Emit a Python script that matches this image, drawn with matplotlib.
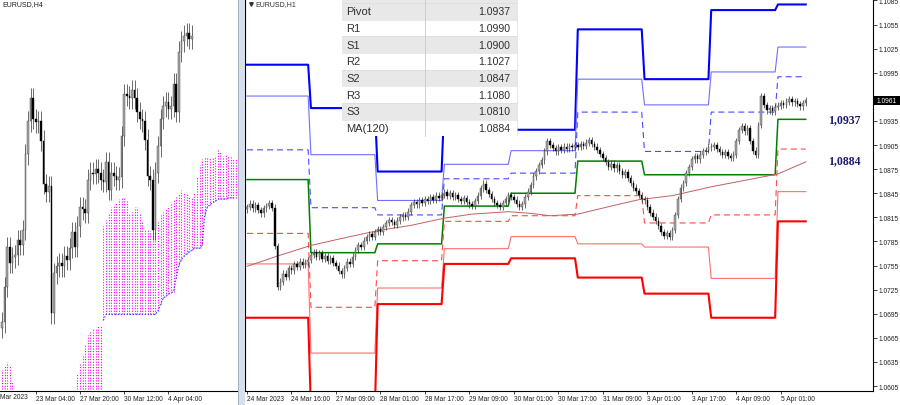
import numpy as np
import matplotlib
matplotlib.use("Agg")
import matplotlib.pyplot as plt
from matplotlib.patches import Rectangle

plt.rcParams['font.family'] = ['Liberation Sans', 'DejaVu Sans']

# ---------------- data ----------------
# EURUSD H4 closes (left panel)
h4_first_open = 1.0712
h4_close = [1.0717, 1.0748, 1.0783, 1.0769, 1.0774, 1.0776, 1.0789, 1.0785, 1.0798, 1.0864,
            1.0893, 1.0913, 1.0895, 1.0892, 1.0893, 1.0876, 1.0838, 1.0831, 1.0836, 1.0725,
            1.0760, 1.0766, 1.0769, 1.0766, 1.0775, 1.0772, 1.0782, 1.0796, 1.0783, 1.0801,
            1.0818, 1.0816, 1.0813, 1.0842, 1.0848, 1.0847, 1.0851, 1.0848, 1.0842, 1.0840,
            1.0857, 1.0833, 1.0848, 1.0845, 1.0842, 1.0844, 1.0880, 1.0917, 1.0915, 1.0913,
            1.0920, 1.0913, 1.0901, 1.0895, 1.0893, 1.0877, 1.0845, 1.0842, 1.0798, 1.0848,
            1.0871, 1.0895, 1.0906, 1.0910, 1.0904, 1.0906, 1.0926, 1.0901, 1.0954, 1.0963,
            1.0968, 1.0970, 1.0965, 1.0968]
h4_ticks = [13.1, 30, 46.9, 63.8]
h4_labels = ['23 Mar 04:00', '27 Mar 20:00', '30 Mar 12:00', '4 Apr 04:00']

# ichimoku cloud borders per H4 bar (nan = no cloud on screen)
nan = np.nan
cloud_top = ([1.0675, 1.0680, 1.0682, 1.0679, 1.0666] + [nan] * 23 +
             [1.0658, 1.0673, 1.0681, 1.0688, 1.0697, 1.0706, 1.0709, 1.0711, 1.0712, 1.0714, 1.0715,
              1.0801, 1.0807, 1.0813, 1.0818, 1.0820, 1.0822, 1.0825, 1.0826, 1.0826, 1.0823,
              1.0813, 1.0814, 1.0818, 1.0818, 1.0813, 1.0805, 1.0799, 1.0798, 1.0797, 1.0797, 1.0796,
              1.0805, 1.0811, 1.0814, 1.0817, 1.0819, 1.0822, 1.0825, 1.0827, 1.0830, 1.0833,
              1.0830, 1.0830, 1.0827, 1.0826, 1.0831, 1.0844, 1.0855,
              1.0860, 1.0862, 1.0862, 1.0862, 1.0862, 1.0862, 1.0869, 1.0867, 1.0863, 1.0864,
              1.0863, 1.0862, 1.0861, 1.0861])
cloud_bot = ([1.0645] * 5 + [nan] * 23 + [1.0645] * 11 +
             [1.0719] + [1.0724] * 20 +
             [1.0727, 1.0733, 1.0738, 1.0740, 1.0742, 1.0743, 1.0744, 1.0756, 1.0767, 1.0772,
              1.0775, 1.0777, 1.0779, 1.0780, 1.0782, 1.0782, 1.0782,
              1.0785, 1.0811, 1.0818, 1.0820, 1.0822, 1.0823, 1.0825, 1.0825, 1.0825, 1.0825,
              1.0826, 1.0826, 1.0826, 1.0826])

# EURUSD H1 closes (right panel), 24 Mar 00:00 .. 5 Apr 10:00
h1_first_open = 1.0825
h1_close = [
    # 24 Mar
    1.0828, 1.0832, 1.0826, 1.0830, 1.0824, 1.0820, 1.0826, 1.0829, 1.0833, 1.0827, 1.0779, 1.0728,
    1.0735, 1.0745, 1.0741, 1.0752, 1.0749, 1.0757, 1.0753, 1.0760, 1.0756, 1.0759, 1.0762,
    # 27 Mar
    1.0768, 1.0772, 1.0766, 1.0770, 1.0763, 1.0767, 1.0761, 1.0764, 1.0758, 1.0755, 1.0748, 1.0744,
    1.0752, 1.0760, 1.0757, 1.0766, 1.0774, 1.0780, 1.0778, 1.0786, 1.0790, 1.0794, 1.0791, 1.0797,
    # 28 Mar
    1.0800, 1.0797, 1.0803, 1.0808, 1.0812, 1.0809, 1.0806, 1.0811, 1.0815, 1.0818, 1.0816, 1.0822,
    1.0830, 1.0834, 1.0831, 1.0836, 1.0833, 1.0838, 1.0835, 1.0840, 1.0837, 1.0842, 1.0839, 1.0843,
    # 29 Mar
    1.0846, 1.0842, 1.0845, 1.0840, 1.0843, 1.0838, 1.0835, 1.0839, 1.0834, 1.0831, 1.0829, 1.0835,
    1.0842, 1.0851, 1.0857, 1.0849, 1.0844, 1.0838, 1.0833, 1.0830, 1.0828, 1.0833, 1.0838, 1.0843,
    # 30 Mar
    1.0840, 1.0837, 1.0832, 1.0828, 1.0831, 1.0840, 1.0847, 1.0855, 1.0866, 1.0873, 1.0880, 1.0886,
    1.0897, 1.0910, 1.0905, 1.0901, 1.0897, 1.0902, 1.0899, 1.0903, 1.0900, 1.0904, 1.0902, 1.0905,
    # 31 Mar
    1.0903, 1.0906, 1.0904, 1.0908, 1.0911, 1.0906, 1.0903, 1.0899, 1.0894, 1.0889, 1.0884, 1.0878,
    1.0882, 1.0876, 1.0880, 1.0873, 1.0868, 1.0871, 1.0864, 1.0858, 1.0852, 1.0848, 1.0843, 1.0838,
    # 3 Apr
    1.0836, 1.0828, 1.0821, 1.0816, 1.0811, 1.0804, 1.0797, 1.0792, 1.0795, 1.0791, 1.0799, 1.0818,
    1.0838, 1.0852, 1.0858, 1.0870, 1.0878, 1.0887, 1.0891, 1.0887, 1.0893, 1.0897, 1.0899, 1.0902,
    # 4 Apr
    1.0903, 1.0905, 1.0900, 1.0896, 1.0893, 1.0896, 1.0891, 1.0889, 1.0893, 1.0910, 1.0924, 1.0929,
    1.0922, 1.0926, 1.0910, 1.0898, 1.0893, 1.0930, 1.0966, 1.0955, 1.0948, 1.0951, 1.0947, 1.0952,
    # 5 Apr
    1.0954, 1.0957, 1.0955, 1.0959, 1.0962, 1.0958, 1.0960, 1.0956, 1.0953, 1.0957, 1.0961]

# daily pivot levels (one value per trading day)
day_bars = [23, 24, 24, 24, 24, 24, 24, 24, 11]
r3 = [1.1005, 1.0951, 1.0872, 1.0958, 1.0924, 1.1049, 1.0987, 1.1073, 1.1080]
r2 = [1.0966, 1.0893, 1.0836, 1.0881, 1.0898, 1.0987, 1.0955, 1.0996, 1.1027]
r1 = [1.0899, 1.0827, 1.0818, 1.0863, 1.0870, 1.0946, 1.0897, 1.0946, 1.0990]
pp = [1.0862, 1.0771, 1.0782, 1.0829, 1.0845, 1.0885, 1.0868, 1.0868, 1.0937]
s1 = [1.0795, 1.0703, 1.0761, 1.0810, 1.0817, 1.0842, 1.0808, 1.0818, 1.0900]
s2 = [1.0757, 1.0646, 1.0727, 1.0776, 1.0791, 1.0782, 1.0778, 1.0739, 1.0847]
s3 = [1.0690, 1.0575, 1.0707, 1.0757, 1.0764, 1.0740, 1.0720, 1.0690, 1.0810]

# MA(120) read at a few bars
ma_bars = [0, 12, 23, 37, 48, 59, 71, 81, 94, 102, 109, 119, 131, 141, 153, 167, 179, 191, 201]
ma_vals = [1.0754, 1.0768, 1.0780, 1.0791, 1.0799, 1.0805, 1.0814, 1.0819, 1.0822, 1.0820,
           1.0817, 1.0819, 1.0829, 1.0837, 1.0842, 1.0853, 1.0861, 1.0869, 1.0884]

h1_ticks = [0, 16, 32, 48, 64, 80, 96, 112, 128, 144, 160, 176, 192]
h1_labels = ['24 Mar 2023', '24 Mar 16:00', '27 Mar 09:00', '28 Mar 01:00', '28 Mar 17:00',
             '29 Mar 09:00', '30 Mar 01:00', '30 Mar 17:00', '31 Mar 09:00', '3 Apr 01:00',
             '3 Apr 17:00', '4 Apr 09:00', '5 Apr 01:00']

# ---------------- figure ----------------
W, H = 900, 406
fig = plt.figure(figsize=(9, 4.06), dpi=100)
fig.patch.set_facecolor('white')


def box(x0, y0, x1, y1):
    # pixel box, origin top-left -> figure fraction rect
    return [x0 / W, 1 - y1 / H, (x1 - x0) / W, (y1 - y0) / H]


def draw_candles(ax, closes, first_open, wick, width):
    closes = np.array(closes)
    opens = np.r_[first_open, closes[:-1]]
    x = np.arange(len(closes))
    hi = np.maximum(opens, closes) + wick
    lo = np.minimum(opens, closes) - wick
    up = closes >= opens
    ax.vlines(x, lo, hi, color='#303030', lw=0.5, zorder=4)
    ax.bar(x[up], (closes - opens)[up], bottom=opens[up], width=width,
           color='#a8a8a8', edgecolor='#404040', lw=0.3, zorder=5)
    ax.bar(x[~up], (opens - closes)[~up], bottom=closes[~up], width=width,
           color='black', edgecolor='black', lw=0.3, zorder=5)


tick_font = 4.8

# ---- left panel (H4 + cloud) ----
axL = fig.add_axes(box(0, 0, 237, 392))
cb = np.arange(len(cloud_top))
ct = np.array(cloud_top)
cbt = np.array(cloud_bot)
ok = ~np.isnan(ct)
axL.vlines(cb[ok], cbt[ok], ct[ok], colors='#ff00ff', linestyles=(0, (1, 1.4)), lw=0.8, zorder=2)
axL.plot(cb[39:], cbt[39:], color='#3a3aff', ls=(0, (1, 1.4)), lw=0.9, zorder=3)
draw_candles(axL, h4_close, h4_first_open, 0.0009, 0.6)
axL.set_xlim(-0.77, 90.4)
axL.set_ylim(1.0657, 1.1000)
axL.set_yticks([])
axL.set_xticks(h4_ticks)
axL.set_xticklabels(h4_labels)
for lb in axL.get_xticklabels():
    lb.set_ha('left')
axL.tick_params(axis='x', labelsize=tick_font, length=2, pad=1, width=0.6, colors='#202020')
for s in ['top', 'left', 'right']:
    axL.spines[s].set_visible(False)
axL.spines['bottom'].set_linewidth(0.8)

# ---- right panel (H1 + pivots) ----
axR = fig.add_axes(box(245, 0, 873, 392))
xb = np.arange(len(h1_close))
levels = [(r3, '#0000ff', 1.5, '-'), (r2, '#6f6fff', 0.8, '-'), (r1, '#4a4aff', 0.8, (0, (5.5, 3.5))),
          (pp, '#008000', 1.1, '-'),
          (s1, '#ff4a4a', 0.8, (0, (5.5, 3.5))), (s2, '#ff6f6f', 0.8, '-'), (s3, '#ff0000', 1.5, '-')]
for vals, col, lw, ls in levels:
    axR.plot(xb, np.repeat(vals, day_bars), color=col, lw=lw, ls=ls, zorder=2)
axR.plot(ma_bars, ma_vals, color='#c06060', lw=0.7, zorder=3)
draw_candles(axR, h1_close, h1_first_open, 0.0004, 0.55)

ymin, ymax = 1.05988, 1.10868
last = h1_close[-1]
axR.set_xlim(-0.72, 225.2)
axR.set_ylim(ymin, ymax)
axR.yaxis.tick_right()
yt = [1.0605 + 0.003 * i for i in range(17)]
axR.set_yticks(yt)
# the label under the current-price marker is hidden, as in the terminal
axR.set_yticklabels(['' if abs(v - last) < 0.0008 else '%.4f' % v for v in yt])
axR.set_xticks(h1_ticks)
axR.set_xticklabels(h1_labels)
for lb in axR.get_xticklabels():
    lb.set_ha('left')
axR.tick_params(axis='x', labelsize=tick_font, length=2, pad=1, width=0.6, colors='#202020')
axR.tick_params(axis='y', labelsize=tick_font, length=3, pad=1, width=0.6, colors='#202020')
axR.spines['top'].set_visible(False)
for s in ['left', 'right', 'bottom']:
    axR.spines[s].set_linewidth(0.8)

# level labels in the free space on the right
axR.text(209, pp[-1], ('%.4f' % pp[-1]).replace('.', ','), family='Liberation Serif',
         fontweight='bold', fontsize=8.5, color='#1c1c6a', va='center', ha='left')
axR.text(209, ma_vals[-1] + 0.0002, ('%.4f' % ma_vals[-1]).replace('.', ','), family='Liberation Serif',
         fontweight='bold', fontsize=8.5, color='#1c1c6a', va='center', ha='left')

# ---- overlay in pixel coordinates ----
ov = fig.add_axes([0, 0, 1, 1], zorder=10)
ov.set_xlim(0, W)
ov.set_ylim(H, 0)
ov.axis('off')
ov.patch.set_alpha(0)

# window separator
ov.add_patch(Rectangle((237.5, 0), 7, H, facecolor='#d6dfeb', edgecolor='none'))
ov.plot([237.5, 237.5], [0, H], color='#a0a8b4', lw=0.6)

# titles
ov.text(2, 5, 'EURUSD,H4', fontsize=5, color='#202020', va='center', ha='left')
ov.plot(251, 5, marker='v', ms=2.5, color='#303030')
ov.text(255, 5, 'EURUSD,H1', fontsize=5, color='#303030', va='center', ha='left')
ov.text(0, 398, 'Mar 2023', fontsize=tick_font, color='#202020', va='center', ha='left')

# current price marker
py = (ymax - last) / (ymax - ymin) * 392
ov.add_patch(Rectangle((874, py - 4.5), 26, 9, facecolor='black', edgecolor='none'))
ov.text(887, py, '%.4f' % last, fontsize=tick_font, color='white', va='center', ha='center')

# pivot table
tab_names = ['Pivot', 'R1', 'S1', 'R2', 'S2', 'R3', 'S3', 'MA(120)']
tab_vals = [pp[-1], r1[-1], s1[-1], r2[-1], s2[-1], r3[-1], s3[-1], ma_vals[-1]]
tx0, tx1, tdiv, row_h, ty0 = 342, 517, 425, 16.67, 4.0
ov.add_patch(Rectangle((tx0, 0), tx1 - tx0, ty0, facecolor='#e8e8e8', edgecolor='none'))
for i, (nm, v) in enumerate(zip(tab_names, tab_vals)):
    y0 = ty0 + i * row_h
    fc = '#e8e8e8' if i % 2 == 0 else 'white'
    ov.add_patch(Rectangle((tx0, y0), tx1 - tx0, row_h, facecolor=fc, edgecolor='none'))
    ov.plot([tx0, tx1], [y0, y0], color='#d8d8d8', lw=0.4)
    ov.text(tx0 + 4, y0 + row_h / 2, nm, fontsize=8, color='#303030', va='center', ha='left')
    ov.text(tx1 - 7, y0 + row_h / 2, '%.4f' % v, fontsize=7.6, color='#303030', va='center', ha='right')
tbot = ty0 + len(tab_names) * row_h
ov.plot([tdiv, tdiv], [0, tbot], color='#c8c8c8', lw=0.6)
ov.plot([tx1, tx1], [0, tbot], color='#dcdcdc', lw=0.5)

fig.savefig('out.png', dpi=100, facecolor='white')
